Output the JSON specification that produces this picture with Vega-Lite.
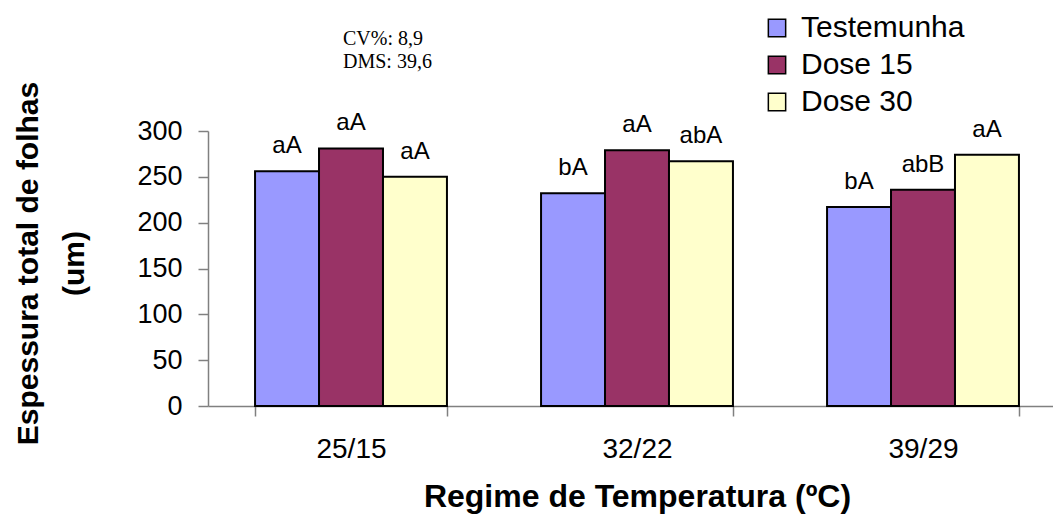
{
  "$schema": "https://vega.github.io/schema/vega-lite/v6.json",
  "width": 845,
  "height": 275,
  "autosize": {"type": "none"},
  "padding": {"left": 208, "top": 131, "right": 0, "bottom": 108},
  "background": "white",
  "config": {"view": {"stroke": null}, "font": "Liberation Sans"},
  "data": {
    "values": [
      {"regime": "25/15", "trat": "Testemunha", "val": 256, "lab": "aA"},
      {"regime": "25/15", "trat": "Dose 15", "val": 281, "lab": "aA"},
      {"regime": "25/15", "trat": "Dose 30", "val": 250, "lab": "aA"},
      {"regime": "32/22", "trat": "Testemunha", "val": 232, "lab": "bA"},
      {"regime": "32/22", "trat": "Dose 15", "val": 279, "lab": "aA"},
      {"regime": "32/22", "trat": "Dose 30", "val": 267, "lab": "abA"},
      {"regime": "39/29", "trat": "Testemunha", "val": 217, "lab": "bA"},
      {"regime": "39/29", "trat": "Dose 15", "val": 236, "lab": "abB"},
      {"regime": "39/29", "trat": "Dose 30", "val": 274, "lab": "aA"}
    ]
  },
  "layer": [
    {
      "mark": {"type": "bar", "stroke": "black", "strokeWidth": 2},
      "encoding": {
        "x": {
          "field": "regime", "type": "nominal", "sort": ["25/15", "32/22", "39/29"],
          "scale": {"range": [0, 858], "paddingInner": 0.329, "paddingOuter": 0.1645},
          "axis": {
            "title": "Regime de Temperatura (ºC)",
            "titleFont": "Liberation Sans", "titleFontSize": 32, "titleFontWeight": "bold",
            "titleColor": "black", "titleBaseline": "alphabetic", "titleY": 100,
            "labelAngle": 0, "labelFontSize": 28, "labelColor": "black",
            "labelBaseline": "alphabetic", "labelPadding": 41, "tickSize": 10,
            "tickBand": "extent", "domainColor": "#808080", "tickColor": "#808080",
            "domainWidth": 1.5, "tickWidth": 1.5, "grid": false
          }
        },
        "xOffset": {
          "field": "trat", "type": "nominal", "sort": ["Testemunha", "Dose 15", "Dose 30"],
          "scale": {"paddingInner": 0, "paddingOuter": 0}
        },
        "y": {
          "field": "val", "type": "quantitative",
          "scale": {"domain": [0, 300], "nice": false},
          "axis": {
            "title": ["Espessura total de folhas", "(um)"],
            "titleFont": "Liberation Sans", "titleFontSize": 30, "titleFontWeight": "bold",
            "titleColor": "black", "titleX": -171, "titleY": 132, "titleAngle": -90,
            "titleBaseline": "alphabetic", "titleAlign": "center", "titleLineHeight": 46,
            "values": [0, 50, 100, 150, 200, 250, 300],
            "labelFontSize": 27, "labelColor": "black", "labelPadding": 16, "tickSize": 10,
            "domainColor": "#808080", "tickColor": "#808080", "domainWidth": 1.5, "tickWidth": 1.5,
            "grid": false
          }
        },
        "color": {
          "field": "trat", "type": "nominal", "sort": ["Testemunha", "Dose 15", "Dose 30"],
          "scale": {"domain": ["Testemunha", "Dose 15", "Dose 30"], "range": ["#9999FF", "#993366", "#FFFFCC"]},
          "legend": {
            "orient": "none", "legendX": 554, "legendY": -118, "title": null,
            "symbolType": "square", "symbolSize": 300, "symbolStrokeColor": "black",
            "symbolStrokeWidth": 1.5, "labelFontSize": 30, "labelColor": "black",
            "labelFont": "Liberation Sans", "labelOffset": 9, "labelLimit": 0,
            "rowPadding": 7, "padding": 0
          }
        }
      }
    },
    {
      "mark": {"type": "text", "baseline": "alphabetic", "dy": -18, "fontSize": 24, "font": "Liberation Sans", "color": "black"},
      "encoding": {
        "x": {"field": "regime", "type": "nominal", "sort": ["25/15", "32/22", "39/29"]},
        "xOffset": {"field": "trat", "type": "nominal", "sort": ["Testemunha", "Dose 15", "Dose 30"]},
        "y": {"field": "val", "type": "quantitative"},
        "text": {"field": "lab"}
      }
    },
    {
      "data": {"values": [{"regime": "25/15", "note": "CV%: 8,9\nDMS: 39,6"}]},
      "mark": {"type": "text", "align": "left", "baseline": "alphabetic", "font": "Liberation Serif", "fontSize": 20, "lineHeight": 23, "lineBreak": "\n", "dx": -8, "color": "black"},
      "encoding": {
        "x": {"field": "regime", "type": "nominal"},
        "y": {"datum": 394},
        "text": {"field": "note"}
      }
    }
  ]
}
